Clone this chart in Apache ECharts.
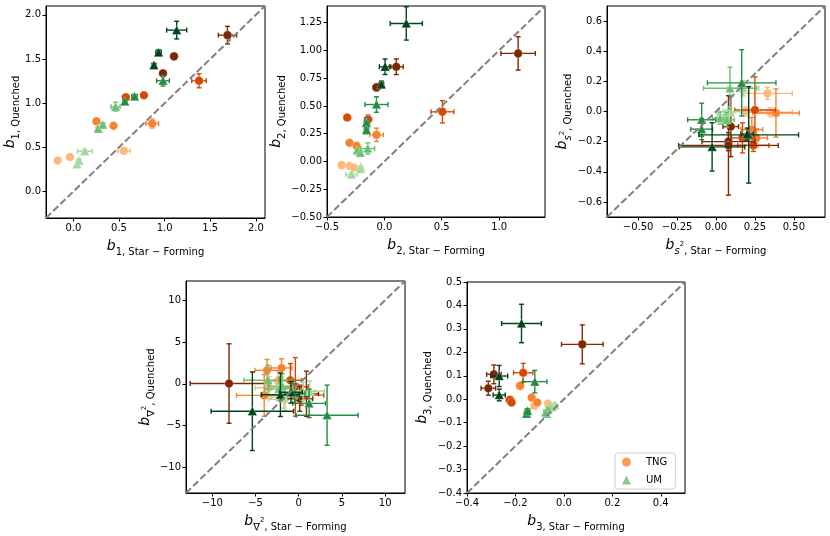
<!DOCTYPE html>
<html>
<head>
<meta charset="utf-8">
<script src="https://cdn.jsdelivr.net/npm/echarts@6/dist/echarts.min.js"></script>
<style>html,body{margin:0;padding:0;background:#fff}#c{width:830px;height:536px}</style>
</head>
<body>
<div id="c"></div>
<script>
// ---------- colours (bins: light -> dark) ----------
const TNG_COLORS = ['#fdb97d', '#f98230', '#d94801', '#7f2704'];
const UM_COLORS  = ['#a1d99b', '#6cc070', '#238b45', '#00441b'];

// ---------- data: [x, y, xerr, yerr, bin] ----------
const b1_TNG = [
  [-0.172, 0.350, 0.01, 0.01, 0], [-0.037, 0.390, 0.01, 0.01, 0], [0.553, 0.460, 0.07, 0.02, 0],
  [0.253, 0.795, 0.01, 0.01, 1], [0.440, 0.745, 0.01, 0.01, 1], [0.864, 0.770, 0.07, 0.05, 1],
  [0.575, 1.066, 0.01, 0.01, 2], [0.773, 1.090, 0.02, 0.02, 2], [1.377, 1.254, 0.08, 0.08, 2],
  [0.982, 1.337, 0.02, 0.02, 3], [1.103, 1.530, 0.03, 0.03, 3], [1.689, 1.770, 0.10, 0.10, 3]
];
const b1_UM = [
  [0.040, 0.310, 0.01, 0.01, 0], [0.062, 0.350, 0.02, 0.02, 0], [0.125, 0.455, 0.08, 0.02, 0],
  [0.271, 0.710, 0.02, 0.02, 1], [0.322, 0.757, 0.02, 0.02, 1], [0.462, 0.960, 0.05, 0.05, 1],
  [0.564, 1.020, 0.02, 0.02, 2], [0.670, 1.077, 0.03, 0.02, 2], [0.982, 1.254, 0.07, 0.06, 2],
  [0.883, 1.430, 0.02, 0.02, 3], [0.934, 1.574, 0.03, 0.03, 3], [1.132, 1.827, 0.11, 0.10, 3]
];
const b2_TNG = [
  [-0.373, -0.033, 0.01, 0.01, 0], [-0.304, -0.040, 0.01, 0.01, 0], [-0.266, -0.054, 0.01, 0.01, 0],
  [-0.304, 0.168, 0.01, 0.01, 1], [-0.243, 0.141, 0.015, 0.015, 1], [-0.069, 0.240, 0.06, 0.06, 1],
  [-0.324, 0.396, 0.02, 0.02, 2], [-0.142, 0.378, 0.03, 0.04, 2], [0.506, 0.447, 0.10, 0.10, 2],
  [-0.069, 0.667, 0.03, 0.03, 3], [0.104, 0.853, 0.06, 0.07, 3], [1.166, 0.973, 0.15, 0.15, 3]
];
const b2_UM = [
  [-0.287, -0.117, 0.05, 0.02, 0], [-0.205, -0.050, 0.01, 0.01, 0], [-0.210, -0.068, 0.01, 0.01, 0],
  [-0.237, 0.100, 0.01, 0.01, 1], [-0.210, 0.078, 0.015, 0.015, 1], [-0.145, 0.117, 0.06, 0.05, 1],
  [-0.156, 0.348, 0.02, 0.04, 2], [-0.156, 0.282, 0.02, 0.02, 2], [-0.069, 0.513, 0.10, 0.07, 2],
  [-0.026, 0.694, 0.02, 0.03, 3], [0.006, 0.853, 0.05, 0.07, 3], [0.191, 1.243, 0.14, 0.15, 3]
];
const bs2_TNG = [
  [0.330, 0.120, 0.16, 0.04, 0], [0.190, 0.000, 0.10, 0.03, 0], [0.350, -0.005, 0.14, 0.03, 0],
  [0.385, -0.010, 0.15, 0.16, 1], [0.230, -0.120, 0.07, 0.08, 1], [0.260, -0.175, 0.07, 0.06, 1],
  [0.250, 0.010, 0.13, 0.22, 2], [0.170, -0.175, 0.07, 0.10, 2], [0.240, -0.225, 0.10, 0.04, 2],
  [0.095, -0.100, 0.05, 0.20, 3], [0.080, -0.200, 0.17, 0.06, 3], [0.080, -0.225, 0.32, 0.33, 3]
];
const bs2_UM = [
  [0.175, 0.154, 0.10, 0.05, 0], [0.090, 0.000, 0.07, 0.03, 0], [0.058, -0.020, 0.05, 0.03, 0],
  [0.090, 0.154, 0.17, 0.14, 1], [0.026, -0.044, 0.05, 0.04, 1], [0.068, -0.055, 0.05, 0.05, 1],
  [0.165, 0.190, 0.22, 0.22, 2], [-0.092, -0.055, 0.09, 0.11, 2], [-0.092, -0.117, 0.07, 0.07, 2],
  [0.210, -0.155, 0.32, 0.32, 3], [-0.025, -0.235, 0.21, 0.16, 3], [0.200, -0.150, 0.04, 0.04, 3]
];
const bL2_TNG = [
  [-3.44, -0.47, 1.6, 1.3, 0], [-1.60, -1.85, 1.9, 1.4, 0], [-2.40, 0.30, 1.5, 1.2, 0],
  [-3.67, 1.62, 1.4, 1.3, 1], [-2.00, 1.90, 1.2, 1.1, 1], [-4.00, -1.38, 3.2, 2.5, 1],
  [-0.97, 0.43, 1.3, 2.0, 2], [-0.39, -0.36, 1.5, 3.5, 2], [0.30, -1.35, 2.6, 1.2, 2],
  [-8.07, 0.04, 4.5, 4.75, 3], [0.12, -1.78, 1.5, 1.5, 3], [0.89, -1.18, 1.4, 2.7, 3]
];
const bL2_UM = [
  [1.27, -0.87, 1.7, 1.2, 0], [-1.70, -1.60, 1.5, 1.3, 0], [0.50, -0.90, 1.4, 1.1, 0],
  [-3.55, 0.43, 2.8, 1.8, 1], [-1.90, -0.28, 1.5, 1.5, 1], [-2.30, -0.60, 1.6, 1.4, 1],
  [-0.46, -1.14, 1.2, 1.2, 2], [1.20, -2.33, 1.9, 1.7, 2], [3.28, -3.75, 3.6, 3.6, 2],
  [-5.37, -3.27, 4.77, 4.7, 3], [-2.12, -1.30, 2.2, 2.6, 3], [-0.90, -1.00, 1.3, 1.3, 3]
];
const b3_TNG = [
  [-0.122, -0.028, 0.006, 0.006, 0], [-0.065, -0.020, 0.006, 0.006, 0], [-0.060, -0.028, 0.006, 0.006, 0],
  [-0.181, 0.057, 0.012, 0.012, 1], [-0.133, 0.007, 0.005, 0.005, 1], [-0.110, -0.014, 0.005, 0.005, 1],
  [-0.168, 0.113, 0.040, 0.040, 2], [-0.223, -0.003, 0.015, 0.015, 2], [-0.216, -0.014, 0.010, 0.012, 2],
  [0.076, 0.234, 0.086, 0.083, 3], [-0.289, 0.106, 0.030, 0.040, 3], [-0.312, 0.047, 0.030, 0.030, 3]
];
const b3_UM = [
  [-0.037, -0.024, 0.005, 0.005, 0], [-0.044, -0.030, 0.005, 0.005, 0], [-0.050, -0.035, 0.005, 0.005, 0],
  [-0.065, -0.045, 0.008, 0.008, 1], [-0.071, -0.062, 0.008, 0.008, 1], [-0.075, -0.055, 0.008, 0.008, 1],
  [-0.120, 0.075, 0.050, 0.048, 2], [-0.154, -0.062, 0.010, 0.010, 2], [-0.150, -0.050, 0.010, 0.010, 2],
  [-0.175, 0.323, 0.082, 0.082, 3], [-0.267, 0.099, 0.035, 0.045, 3], [-0.267, 0.018, 0.025, 0.025, 3]
];

// ---------- axis limits and tick labels ----------
const b1_range = [-0.3, 2.1];
const b1_ticks = [0.0, 0.5, 1.0, 1.5, 2.0];
const b2_range = [-0.5, 1.4];
const b2_xticks = [-0.5, 0.0, 0.5, 1.0];
const b2_yticks = [-0.5, -0.25, 0.0, 0.25, 0.5, 0.75, 1.0, 1.25];
const bs2_range = [-0.7, 0.7];
const bs2_xticks = [-0.5, -0.25, 0.0, 0.25, 0.5];
const bs2_yticks = [-0.6, -0.4, -0.2, 0.0, 0.2, 0.4, 0.6];
const bL2_range = [-13.05, 12.3];
const bL2_ticks = [-10, -5, 0, 5, 10];
const b3_range = [-0.4, 0.5];
const b3_xticks = [-0.4, -0.2, 0.0, 0.2, 0.4];
const b3_yticks = [-0.4, -0.3, -0.2, -0.1, 0.0, 0.1, 0.2, 0.3, 0.4, 0.5];

const FONT = 'DejaVu Sans';
const rich = {
  b:   { fontFamily: FONT, fontStyle: 'italic', fontSize: 14, lineHeight: 22, verticalAlign: 'middle', color: '#000' },
  s:   { fontFamily: FONT, fontSize: 10, lineHeight: 12, verticalAlign: 'bottom', color: '#000' },
  si:  { fontFamily: FONT, fontStyle: 'italic', fontSize: 10, lineHeight: 12, verticalAlign: 'bottom', color: '#000' },
  sup: { fontFamily: FONT, fontSize: 7, lineHeight: 8, verticalAlign: 'top', padding: [7, 0, 0, 0], color: '#000' }
};

const panels = [
  { grid: { left: 46, top: 6, width: 219, height: 212 }, range: b1_range, xt: b1_ticks, yt: b1_ticks, xd: 1, yd: 1,
    sub: '{s|1, ', xgap: 17, ygap: 20, tng: b1_TNG, um: b1_UM },
  { grid: { left: 327, top: 6, width: 218, height: 211 }, range: b2_range, xt: b2_xticks, yt: b2_yticks, xd: 1, yd: 2,
    sub: '{s|2, ', xgap: 17, ygap: 30, tng: b2_TNG, um: b2_UM },
  { grid: { left: 607, top: 6, width: 218, height: 211 }, range: bs2_range, xt: bs2_xticks, yt: bs2_yticks, xd: 2, yd: 1,
    sub: '{si|s}{sup|2}{s|, ', xgap: 17, ygap: 33, tng: bs2_TNG, um: bs2_UM },
  { grid: { left: 186, top: 281, width: 219, height: 212 }, range: bL2_range, xt: bL2_ticks, yt: bL2_ticks, xd: 0, yd: 0,
    sub: '{s|∇}{sup|2}{s|, ', xgap: 17, ygap: 12, tng: bL2_TNG, um: bL2_UM },
  { grid: { left: 467, top: 282, width: 218, height: 211 }, range: b3_range, xt: b3_xticks, yt: b3_yticks, xd: 1, yd: 1,
    sub: '{s|3, ', xgap: 17, ygap: 26, tng: b3_TNG, um: b3_UM }
];

function fmt(d) {
  return function (v) { return Number(v).toFixed(d).replace('-', '\u2212'); };
}

function axis(i, range, ticks, dec, name, gap) {
  return {
    type: 'value', gridIndex: i, min: range[0], max: range[1],
    axisLine: { show: true, onZero: false, lineStyle: { color: '#000', width: 1 } },
    axisTick: { show: true, customValues: ticks, length: 3.5, lineStyle: { color: '#000', width: 1 } },
    axisLabel: { customValues: ticks, formatter: fmt(dec), fontFamily: FONT, fontSize: 10, color: '#000', margin: 5 },
    splitLine: { show: false },
    name: name, nameLocation: 'middle', nameGap: gap,
    nameTextStyle: { rich: rich }
  };
}

function renderer(colors, shape) {
  return function (params, api) {
    const x = api.value(0), y = api.value(1), xe = api.value(2), ye = api.value(3), k = api.value(4);
    const col = colors[k];
    const c = api.coord([x, y]);
    const L = api.coord([x - xe, y]), R = api.coord([x + xe, y]);
    const T = api.coord([x, y + ye]), B = api.coord([x, y - ye]);
    const cap = 2.5;
    const st = { stroke: col, lineWidth: 1.4 };
    const seg = (x1, y1, x2, y2) => ({ type: 'line', shape: { x1, y1, x2, y2 }, style: st });
    const children = [
      seg(L[0], L[1], R[0], R[1]),
      seg(T[0], T[1], B[0], B[1]),
      seg(L[0], L[1] - cap, L[0], L[1] + cap),
      seg(R[0], R[1] - cap, R[0], R[1] + cap),
      seg(T[0] - cap, T[1], T[0] + cap, T[1]),
      seg(B[0] - cap, B[1], B[0] + cap, B[1])
    ];
    const ms = 4.3;
    if (shape === 'circle') {
      children.push({ type: 'circle', shape: { cx: c[0], cy: c[1], r: ms },
        style: { fill: col, stroke: 'rgba(255,255,255,0.45)', lineWidth: 0.6 } });
    } else {
      children.push({ type: 'polygon', shape: { points: [[c[0], c[1] - ms - 0.4], [c[0] - ms - 0.4, c[1] + ms], [c[0] + ms + 0.4, c[1] + ms]] },
        style: { fill: col, stroke: 'rgba(255,255,255,0.45)', lineWidth: 0.6 } });
    }
    return { type: 'group', children: children };
  };
}

const grids = [], xAxes = [], yAxes = [], series = [];
panels.forEach(function (p, i) {
  grids.push(Object.assign({ show: true, borderColor: '#000', borderWidth: 1, backgroundColor: 'transparent' }, p.grid));
  xAxes.push(axis(i, p.range, p.xt, p.xd, '{b|b}' + p.sub + 'Star \u2212 Forming}', p.xgap));
  yAxes.push(axis(i, p.range, p.yt, p.yd, '{b|b}' + p.sub + 'Quenched}', p.ygap));
  series.push({ type: 'custom', name: 'TNG_' + i, xAxisIndex: i, yAxisIndex: i, clip: true, silent: true,
    renderItem: renderer(TNG_COLORS, 'circle'), encode: { x: 0, y: 1 }, data: p.tng, z: 2 });
  series.push({ type: 'custom', name: 'UM_' + i, xAxisIndex: i, yAxisIndex: i, clip: true, silent: true,
    renderItem: renderer(UM_COLORS, 'triangle'), encode: { x: 0, y: 1 }, data: p.um, z: 2 });
  series.push({ type: 'line', xAxisIndex: i, yAxisIndex: i, silent: true, showSymbol: false, symbol: 'none', z: 3,
    data: [[p.range[0], p.range[0]], [p.range[1], p.range[1]]],
    lineStyle: { color: '#808080', width: 2, type: [7, 3] } });
});
// legend-only series
series.push({ type: 'scatter', name: 'TNG', xAxisIndex: 4, yAxisIndex: 4, symbol: 'circle', data: [], itemStyle: { color: TNG_COLORS[1] } });
series.push({ type: 'scatter', name: 'UM', xAxisIndex: 4, yAxisIndex: 4, symbol: 'triangle', data: [], itemStyle: { color: UM_COLORS[1] } });

const chart = echarts.init(document.getElementById('c'), null, { renderer: 'canvas' });
chart.setOption({
  animation: false,
  backgroundColor: '#fff',
  grid: grids, xAxis: xAxes, yAxis: yAxes, series: series,
  legend: {
    data: [{ name: 'TNG', icon: 'circle' }, { name: 'UM', icon: 'triangle' }],
    orient: 'vertical', left: 615, top: 453,
    itemWidth: 9, itemHeight: 9, itemGap: 8,
    padding: [4, 8, 4, 7],
    borderColor: '#d0d0d0', borderWidth: 1, borderRadius: 3,
    backgroundColor: 'rgba(255,255,255,0.8)',
    textStyle: { fontFamily: FONT, fontSize: 10, color: '#000', padding: [0, 0, 0, 10] },
    selectedMode: false
  }
});
</script>
</body>
</html>
